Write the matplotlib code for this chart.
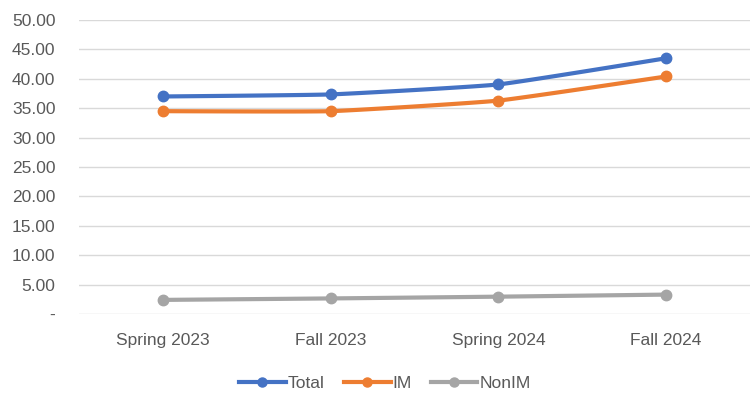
import numpy as np
import matplotlib
matplotlib.use("Agg")
import matplotlib.pyplot as plt
from matplotlib.ticker import FuncFormatter

# Term labels and series values
terms = ["Spring 2023", "Fall 2023", "Spring 2024", "Fall 2024"]
total = [37.0, 37.35, 39.05, 43.5]
im = [34.5, 34.5, 36.3, 40.4]
non_im = [2.4, 2.65, 2.95, 3.3]

series_names = ["Total", "IM", "NonIM"]
series_colors = ["#4472C4", "#ED7D31", "#A5A5A5"]

plt.rcParams["font.family"] = ["Liberation Sans Narrow", "Liberation Sans", "DejaVu Sans"]


def smooth_path(x, y, steps=30, tension=0.2):
    """Cardinal-spline curve through the points, similar to a smoothed line chart."""
    x = np.asarray(x, float)
    y = np.asarray(y, float)
    n = len(x)
    xs, ys = [], []
    for i in range(n - 1):
        p0 = (x[max(i - 1, 0)], y[max(i - 1, 0)])
        p1 = (x[i], y[i])
        p2 = (x[i + 1], y[i + 1])
        p3 = (x[min(i + 2, n - 1)], y[min(i + 2, n - 1)])
        m1 = ((p2[0] - p0[0]) * tension, (p2[1] - p0[1]) * tension)
        m2 = ((p3[0] - p1[0]) * tension, (p3[1] - p1[1]) * tension)
        t = np.linspace(0, 1, steps, endpoint=(i == n - 2))
        h00 = 2 * t**3 - 3 * t**2 + 1
        h10 = t**3 - 2 * t**2 + t
        h01 = -2 * t**3 + 3 * t**2
        h11 = t**3 - t**2
        xs.append(h00 * p1[0] + h10 * m1[0] + h01 * p2[0] + h11 * m2[0])
        ys.append(h00 * p1[1] + h10 * m1[1] + h01 * p2[1] + h11 * m2[1])
    return np.concatenate(xs), np.concatenate(ys)


fig = plt.figure(figsize=(7.5, 3.93), dpi=100)
ax = fig.add_axes([0.1053, 0.201, 0.8947, 0.748])

x = np.arange(len(terms))
handles = []
for name, vals, col in zip(series_names, [total, im, non_im], series_colors):
    sx, sy = smooth_path(x, vals)
    ax.plot(sx, sy, color=col, lw=3.0, solid_capstyle="round", zorder=3)
    ax.plot(x, vals, ls="none", marker="o", ms=7.5, color=col, zorder=4)
    h, = ax.plot([], [], color=col, lw=3.0, marker="o", ms=6.5, label=name)
    handles.append(h)

ax.set_xlim(-0.5, len(terms) - 0.5)
ax.set_ylim(0, 50)
ax.set_yticks(np.arange(0, 51, 5))
ax.yaxis.set_major_formatter(FuncFormatter(lambda v, p: "-" if v == 0 else f"{v:.2f}"))
ax.set_xticks(x)
ax.set_xticklabels(terms)

ax.grid(axis="y", color="#D9D9D9", lw=1.0)
ax.set_axisbelow(True)
for s in ax.spines.values():
    s.set_visible(False)
ax.tick_params(axis="both", length=0, colors="#595959", labelsize=12.5)
ax.tick_params(axis="y", pad=17)
ax.tick_params(axis="x", pad=14)

fig.legend(handles=handles, loc="center", bbox_to_anchor=(0.513, 0.024), ncol=3,
           frameon=False, fontsize=12.5, handlelength=2.7, handletextpad=0.1,
           columnspacing=1.1, labelcolor="#595959")

fig.savefig("out.png", dpi=100, facecolor="white")
